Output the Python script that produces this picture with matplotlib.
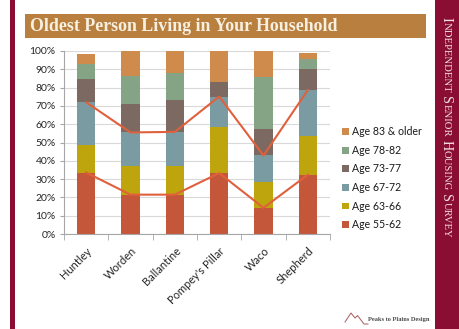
import numpy as np
import matplotlib
matplotlib.use("Agg")
import matplotlib.pyplot as plt
from matplotlib.patches import Rectangle, Patch
from matplotlib.lines import Line2D

W, H = 460, 329

towns = ["Huntley", "Worden", "Ballantine", "Pompey's Pillar", "Waco", "Shepherd"]
age_labels = ["Age 55-62", "Age 63-66", "Age 67-72", "Age 73-77", "Age 78-82", "Age 83 & older"]
age_55_62 = [33.6, 21.5, 21.5, 33.3, 14.3, 32.4]
age_63_66 = [15.1, 15.4, 15.4, 25.1, 14.3, 21.2]
age_67_72 = [23.3, 18.6, 18.9, 16.7, 14.3, 25.1]
age_73_77 = [12.7, 15.4, 17.5, 8.2, 14.3, 11.3]
age_78_82 = [8.2, 15.5, 14.5, 0.0, 28.6, 5.6]
age_83_plus = [5.5, 13.6, 12.2, 16.7, 14.3, 3.1]
age_colors = ["#c4573a", "#bfa50d", "#7b9ba3", "#7c6961", "#85a485", "#cf8b4b"]

plt.rcParams['font.family'] = ['Lato', 'DejaVu Sans']

MAROON = "#8a0d33"


def fx(x):
    return x / W


def fy(y):
    return 1 - y / H


fig = plt.figure(figsize=(W / 100, H / 100), dpi=100)
fig.patch.set_facecolor("white")

# slide frame: thin left strip, right sidebar, title banner
fig.add_artist(Rectangle((fx(10), 0), fx(5), 1, transform=fig.transFigure,
                         color=MAROON, lw=0))
fig.add_artist(Rectangle((fx(435), 0), fx(W - 435), 1, transform=fig.transFigure,
                         color=MAROON, lw=0))
fig.add_artist(Rectangle((fx(25), fy(38)), fx(401), 24 / H, transform=fig.transFigure,
                         color="#b87f3e", lw=0))
fig.text(fx(30), fy(26.5), "Oldest Person Living in Your Household",
         family="Liberation Serif", weight="bold", size=12.9, color="#f7efdf",
         va="center", ha="left")

ax = fig.add_axes([fx(64), fy(234), (330 - 64) / W, 183 / H])

data = np.array([age_55_62, age_63_66, age_67_72, age_73_77, age_78_82, age_83_plus])
xpos = np.arange(len(towns))
bottom = np.zeros(len(towns))
for vals, color, label in zip(data, age_colors, age_labels):
    ax.bar(xpos, vals, 0.41, bottom=bottom, color=color, label=label, zorder=2)
    bottom += vals

cum = np.cumsum(data, axis=0)
ax.plot(xpos, cum[0], color="#e0603c", lw=1.5, zorder=3)
ax.plot(xpos, cum[2], color="#e0603c", lw=1.5, zorder=3)

ax.set_xlim(-0.5, len(towns) - 0.5)
ax.set_ylim(0, 100)
ax.set_yticks(np.arange(0, 101, 10))
ax.set_yticklabels([f"{v}%" for v in range(0, 101, 10)])
ax.yaxis.grid(True, color="#d9d9d9", lw=0.8, zorder=0)
ax.set_axisbelow(True)

ax.set_xticks(xpos)
ax.set_xticklabels(towns, rotation=45, ha="right", rotation_mode="anchor")
ax.set_xticks(np.arange(-0.5, len(towns)), minor=True)
ax.tick_params(axis="x", which="major", length=0, pad=8, labelsize=8, labelcolor="#262626")
ax.tick_params(axis="x", which="minor", length=4, color="#a6a6a6")
ax.tick_params(axis="y", length=3, color="#a6a6a6", labelsize=7.5, labelcolor="#262626", pad=3)

for side in ("top", "right"):
    ax.spines[side].set_visible(False)
for side in ("left", "bottom"):
    ax.spines[side].set_color("#a6a6a6")
    ax.spines[side].set_linewidth(0.8)

handles = [Patch(facecolor=c, label=l) for c, l in zip(age_colors, age_labels)][::-1]
fig.legend(handles=handles, loc="upper left", bbox_to_anchor=(fx(337), fy(121)),
           frameon=False, fontsize=7.6, handlelength=0.6, handleheight=0.6,
           handletextpad=0.35, labelspacing=0.72, borderpad=0, labelcolor="#1a1a1a")

# sidebar title in small caps, reading downward
renderer = fig.canvas.get_renderer()
cursor = 17
words = ["Independent", "Senior", "Housing", "Survey"]
for i, word in enumerate(words):
    pieces = [(word[0].upper(), 10.2), (word[1:].upper(), 7.7)]
    if i < len(words) - 1:
        pieces.append((" ", 10.2))
    for txt, size in pieces:
        t = fig.text(fx(446), fy(cursor), txt, family="Liberation Serif", size=size,
                     color="#f2dde2", rotation=-90, rotation_mode="anchor",
                     ha="left", va="center")
        if txt == " ":
            cursor += size * 0.35
            t.remove()
        else:
            cursor += t.get_window_extent(renderer).height

# small logo at the bottom right
fig.add_artist(Line2D([fx(345), fx(351), fx(355), fx(357.5), fx(364), fx(368)],
                      [fy(322), fy(313), fy(318), fy(315.5), fy(324), fy(324)],
                      transform=fig.transFigure, color="#a85a5a", lw=0.7))
fig.text(fx(368), fy(320), "Peaks to Plains Design", family="Liberation Serif",
         weight="bold", size=4.6, color="#4a4a4a", va="center", ha="left")

fig.savefig("out.png", dpi=100)
